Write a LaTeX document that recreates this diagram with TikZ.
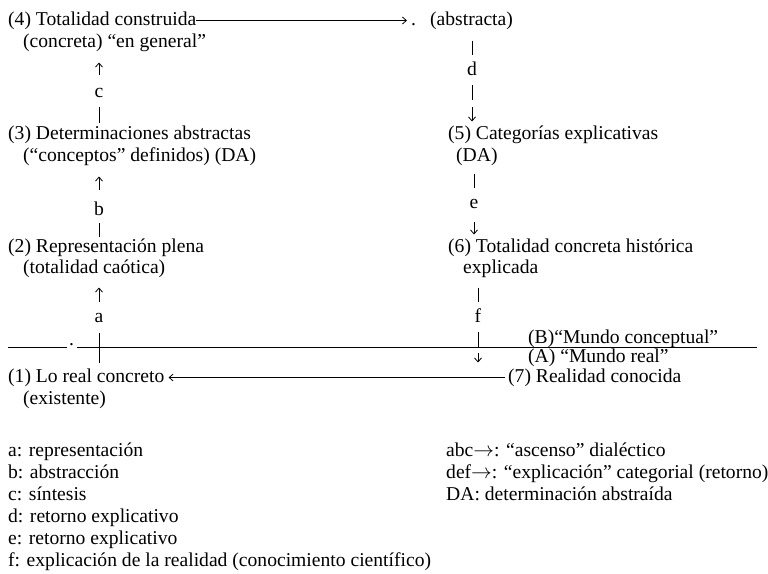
\documentclass[tikz,border=0pt]{standalone}
\usepackage{fontspec}
\setmainfont{Liberation Serif}
\usepackage{tikz}
\usetikzlibrary{arrows.meta}
\usetikzlibrary{positioning}
\usetikzlibrary{calc}
\tikzstyle{txt}=[inner sep=0pt,anchor=base west,text height=13.3pt,text depth=4.3pt,font=\fontsize{19.6}{22}\selectfont]
\tikzstyle{lbl}=[inner sep=0pt,anchor=base,text height=9pt,text depth=0pt,font=\fontsize{19.6}{22}\selectfont]
\tikzstyle{bar}=[line width=0.9pt]
\tikzstyle{tip}=[line width=0.8pt,-{Straight Barb[length=4pt,width=7pt]}]
\tikzstyle{rule}=[line width=1pt]

\begin{document}
\begin{tikzpicture}[x=1pt,y=-1pt]
\useasboundingbox (0,0) rectangle (768,573);
\node [txt] (n4) at (8,25) {(4) Totalidad construida};
\node [txt] (n4b) at (23,47) {(concreta) “en general”};
\node [txt] (dot1) at (411,25) {.};
\node [txt] (abs) at (430,25) {(abstracta)};
\node [txt] (n3) at (8,139) {(3) Determinaciones abstractas};
\node [txt] (n3b) at (23,161) {(“conceptos” definidos) (DA)};
\node [txt] (n5) at (448,139) {(5) Categorías explicativas};
\node [txt] (n5b) at (456,161) {(DA)};
\node [txt] (n2) at (8,252) {(2) Representación plena};
\node [txt] (n2b) at (23,273) {(totalidad caótica)};
\node [txt] (n6) at (448,252) {(6) Totalidad concreta histórica};
\node [txt] (n6b) at (463,273) {explicada};
\node [txt] (dot2) at (69,345) {.};
\node [txt] (mB) at (528,343) {(B)“Mundo conceptual”};
\node [txt] (mA) at (528,362) {(A) “Mundo real”};
\node [txt] (n1) at (8,382) {(1) Lo real concreto};
\node [txt] (n1b) at (23,404) {(existente)};
\node [txt] (n7) at (508,382) {(7) Realidad conocida};

\node [lbl] (c) at (99,97) {c};
\node [lbl] (b) at (99,215) {b};
\node [lbl] (a) at (99,322) {a};
\node [lbl] (d) at (472,75) {d};
\node [lbl] (e) at (474,208) {e};
\node [lbl] (f) at (478,322) {f};

\draw [tip,shorten <=13pt,shorten >=11pt] (c.north) -- (n4b.south -| c);
\draw [bar,shorten <=10pt,shorten >=3pt] (c.south) -- (n3.north -| c);
\draw [tip,shorten <=16pt,shorten >=11pt] (b.north) -- (n3b.south -| b);
\draw [bar,shorten <=8pt,shorten >=2pt] (b.south) -- (n2.north -| b);
\draw [tip,shorten <=11pt,shorten >=10pt] (a.north) -- (n2b.south -| a);
\draw [bar,shorten <=11pt,shorten >=6pt] (a.south) -- (n1.north -| a);

\draw [bar,shorten <=11pt,shorten >=11pt] (abs.south -| d) -- (d.north);
\draw [tip,dash pattern=on 15pt off 7pt on 40pt,shorten <=10pt,shorten >=4pt] (d.south) -- (n5.north -| d);
\draw [bar,shorten <=8pt,shorten >=11pt] (n5b.south -| e) -- (e.north);
\draw [tip,shorten <=14pt,shorten >=4pt] (e.south) -- (n6.north -| e);
\draw [bar,shorten <=10pt,shorten >=11pt] (n6b.south -| f) -- (f.north);
\draw [tip,dash pattern=on 15pt off 6pt on 40pt,shorten <=10pt,shorten >=6pt] (f.south) -- (n7.north -| f);

\draw [tip,shorten >=4pt] (n4.east) -- (dot1.west);
\draw [tip,shorten <=3pt,shorten >=4pt] (n7.west) -- (n1.east);

\coordinate (r0) at (8,347);
\coordinate (r1) at (67,347);
\coordinate (r2) at (77,347);
\coordinate (r3) at (757,347);
\draw [rule] (r0) -- (r1) (r2) -- (r3);

\node [txt] (la) at (8,456) {a: representación};
\node [txt] (lb) at (8,478) {b: abstracción};
\node [txt] (lc) at (8,500) {c: síntesis};
\node [txt] (ld) at (8,522) {d: retorno explicativo};
\node [txt] (le) at (8,544) {e: retorno explicativo};
\node [txt] (lf) at (8,566) {f: explicación de la realidad (conocimiento científico)};
\node [txt] (labc) at (446,456) {abc$\rightarrow$: “ascenso” dialéctico};
\node [txt] (ldef) at (446,478) {def$\rightarrow$: “explicación” categorial (retorno)};
\node [txt] (lda) at (446,500) {DA: determinación abstraída};
\end{tikzpicture}
\end{document}
